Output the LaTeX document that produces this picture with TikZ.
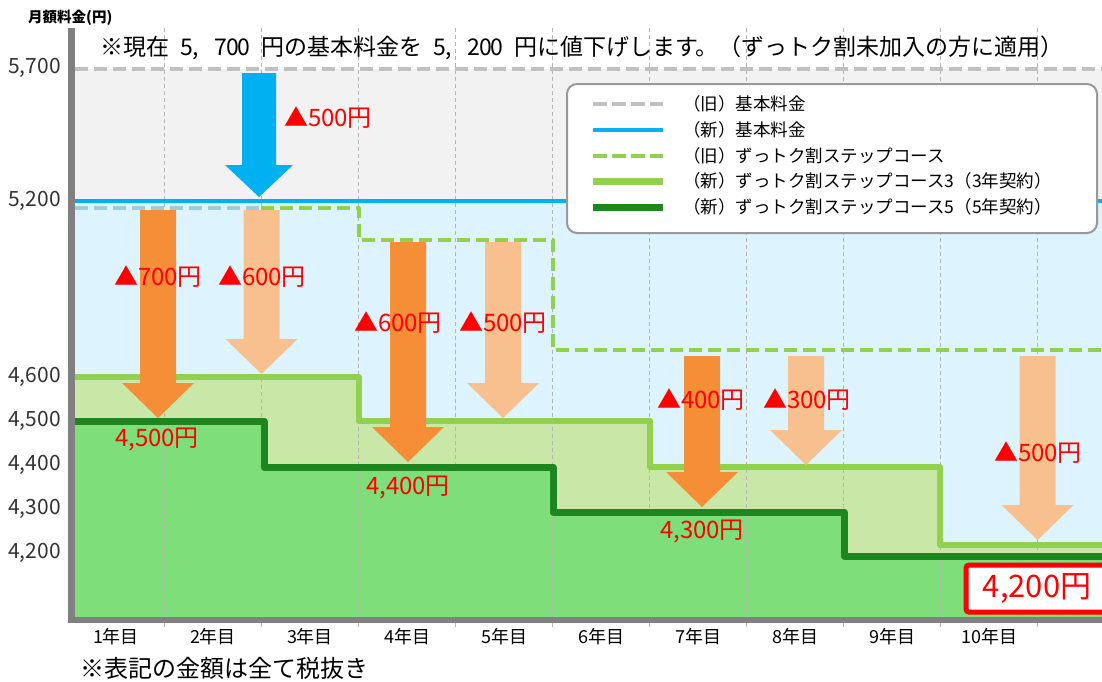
\documentclass[tikz,border=0pt]{standalone}
\usepackage{fontspec}
\setmainfont{Noto Sans CJK JP}
\usetikzlibrary{positioning}

\definecolor{sfondogrigio}{HTML}{F2F2F2}
\definecolor{sfondoazzurro}{HTML}{DDF3FD}
\definecolor{riempiverdechiaro}{HTML}{C9E7A6}
\definecolor{riempiverde}{HTML}{7EDF7A}
\definecolor{blubase}{HTML}{00B0F0}
\definecolor{verdechiaro}{HTML}{92D050}
\definecolor{verdescuro}{HTML}{1E861E}
\definecolor{arancio}{HTML}{F68D37}
\definecolor{aranciochiaro}{HTML}{F9C08F}
\definecolor{grigiotratto}{HTML}{C0C0C0}
\definecolor{grigioazzurro}{HTML}{9ECCDD}
\definecolor{grigioasse}{HTML}{808080}
\definecolor{grigiogriglia}{HTML}{B4B4B4}

\tikzset{
  etichetta/.style={text=red, font=\fontsize{24}{24}\selectfont, inner sep=0},
  anno/.style={font=\fontsize{18}{18}\selectfont, inner sep=0},
  valore/.style={font=\fontsize{21}{21}\selectfont, anchor=east, inner sep=0, text=black!80},
  voce/.style={font=\fontsize{17.5}{17.5}\selectfont, anchor=west, inner sep=0},
  tratteggio/.style={line width=4, dash pattern=on 13 off 6},
}

% freccia piena: colore, centro x, y alto, y punta
\newcommand{\freccia}[4]{%
  \fill[#1] (#2-18,#3) -- (#2+18,#3) -- (#2+18,#4-35) -- (#2+36,#4-35)
    -- (#2,#4) -- (#2-36,#4-35) -- (#2-18,#4-35) -- cycle;}
% carattere a mezza larghezza
\newcommand{\mz}[1]{\makebox[0.5em]{#1}}
\newcommand{\mzv}{\makebox[0.5em][l]{,}}

\begin{document}
\begin{tikzpicture}[x=1pt, y=-1pt]
    \useasboundingbox[fill=white] (0,0) rectangle (1102,681);

    % Sfondi
    \fill[sfondogrigio] (75,69) rectangle (1102,201);
    \fill[sfondoazzurro] (75,201) rectangle (1102,617);
    \fill[riempiverdechiaro] (75,377) -- (359,377) -- (359,421) -- (650,421) -- (650,467)
        -- (940,467) -- (940,545) -- (1102,545) -- (1102,617) -- (75,617) -- cycle;
    \fill[riempiverde] (75,421) -- (264,421) -- (264,467) -- (553,467) -- (553,512)
        -- (844,512) -- (844,556) -- (1102,556) -- (1102,617) -- (75,617) -- cycle;

    % Griglia
    \foreach \i in {0,...,9}
        \draw[grigiogriglia, line width=0.8, dash pattern=on 4 off 3] (164.5+97*\i,28) -- (164.5+97*\i,630);

    % Linee dei canoni
    \draw[grigiotratto, tratteggio] (75,69) -- (1102,69);
    \draw[blubase, line width=4] (75,201) -- (1102,201);
    \draw[grigioazzurro, tratteggio] (75,208) -- (261,208);
    \draw[verdechiaro, tratteggio, line join=round] (261,208) -- (359,208) -- (359,240)
        -- (553,240) -- (553,350) -- (1102,350);
    \draw[verdechiaro, line width=6, line join=round] (75,377) -- (359,377) -- (359,421)
        -- (650,421) -- (650,467) -- (940,467) -- (940,545) -- (1102,545);
    \draw[verdescuro, line width=7, line join=round] (75,421) -- (264,421) -- (264,467)
        -- (553,467) -- (553,512) -- (844,512) -- (844,556) -- (1102,556);

    % Frecce
    \fill[blubase] (242,73) -- (276,73) -- (276,165) -- (293,165) -- (259,197)
        -- (225,165) -- (242,165) -- cycle;
    \freccia{arancio}{158}{210}{418}
    \freccia{aranciochiaro}{261.5}{210}{374}
    \freccia{arancio}{408}{242}{462}
    \freccia{aranciochiaro}{503}{242}{418}
    \freccia{arancio}{702}{356}{507}
    \freccia{aranciochiaro}{806}{356}{465}
    \freccia{aranciochiaro}{1037.5}{356}{540}

    % Riduzioni
    \node[etichetta] (rid1) at (328,118) {▲500円};
    \node[etichetta] (rid2) at (158,277) {▲700円};
    \node[etichetta] (rid3) at (262,277) {▲600円};
    \node[etichetta] (rid4) at (398,323) {▲600円};
    \node[etichetta] (rid5) at (503,323) {▲500円};
    \node[etichetta] (rid6) at (701,400) {▲400円};
    \node[etichetta] (rid7) at (807,400) {▲300円};
    \node[etichetta] (rid8) at (1038,453) {▲500円};
    \node[etichetta] (prezzo1) at (157,440) {4,500円};
    \node[etichetta] (prezzo2) at (408,488) {4,400円};
    \node[etichetta] (prezzo3) at (702,532) {4,300円};
    \node[draw=red, line width=5, fill=white, rounded corners=3, minimum width=142,
        minimum height=47, text=red, font=\fontsize{31}{31}\selectfont] (prezzo4) at (1037,588.5) {4,200円};

    % Legenda
    \node[draw=grigioasse!80, line width=2, rounded corners=10, fill=white,
        minimum width=530, minimum height=149] (legenda) at (832,158.5) {};
    \draw[grigiotratto, line width=4, dash pattern=on 14 off 5] (593,104) -- (663,104);
    \draw[blubase, line width=4] (593,130) -- (663,130);
    \draw[verdechiaro, line width=4, dash pattern=on 14 off 5] (593,156) -- (663,156);
    \draw[verdechiaro, line width=7] (593,181) -- (663,181);
    \draw[verdescuro, line width=7] (593,207) -- (663,207);
    \node[voce] (voce1) at (683,104) {（旧）基本料金};
    \node[voce] (voce2) at (683,130) {（新）基本料金};
    \node[voce] (voce3) at (683,156) {（旧）ずっトク割ステップコース};
    \node[voce] (voce4) at (683,181) {（新）ずっトク割ステップコース3（3年契約）};
    \node[voce] (voce5) at (683,207) {（新）ずっトク割ステップコース5（5年契約）};

    % Assi
    \draw[grigioasse, line width=7] (71.5,28) -- (71.5,623);
    \draw[grigioasse, line width=6] (68,620) -- (1102,620);

    % Valori e anni
    \foreach \v/\y in {5700/68, 5200/201, 4600/377, 4500/421, 4400/465, 4300/509, 4200/553}
        \node[valore] (val\v) at (61,\y) {\pgfmathparse{int(\v/1000)}\pgfmathresult,\pgfmathparse{int(mod(\v,1000))}\pgfmathresult};
    \foreach \i in {1,...,10}
        \node[anno] (anno\i) at (116+97*\i-97,637) {\i 年目};

    % Testi
    \node[font=\bfseries\fontsize{14.5}{14.5}\selectfont, anchor=west, inner sep=0] (unita) at (28,18) {月額料金(円)};
    \node[font=\fontsize{23}{23}\selectfont, anchor=west, inner sep=0] (nota) at (100,48)
        {※現在\mz{~}\mz{5}\mzv\mz{~}\mz{7}\mz{0}\mz{0}\mz{~}円の基本料金を\mz{~}\mz{5}\mzv\mz{~}\mz{2}\mz{0}\mz{0}\mz{~}円に値下げします。（ずっトク割未加入の方に適用）};
    \node[font=\fontsize{24}{24}\selectfont, anchor=west, inner sep=0] (tasse) at (80,668)
        {※表記の金額は全て税抜き};
\end{tikzpicture}
\end{document}
